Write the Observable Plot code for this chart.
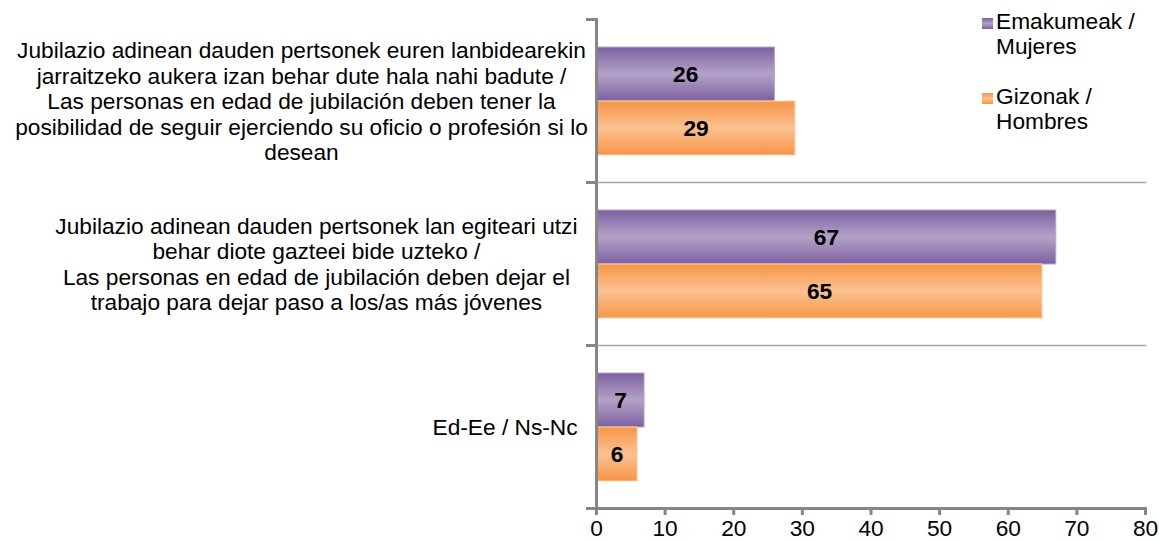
<!DOCTYPE html>
<html>
<head>
<meta charset="utf-8">
<script src="https://cdn.jsdelivr.net/npm/d3@7"></script>
<script src="https://cdn.jsdelivr.net/npm/@observablehq/plot@0.6"></script>
<style>
  html, body { margin: 0; padding: 0; background: #fff; }
  #wrap { position: relative; width: 1159px; height: 542px; font-family: "Liberation Sans", Arial, sans-serif; }
  .leg { position: absolute; left: 982px; font-size: 22.7px; line-height: 25px; color: #000; }
  .sw { position: absolute; left: 0; top: 9px; width: 11px; height: 11px; }
  .lt { position: absolute; left: 14px; top: 0; white-space: nowrap; }
</style>
</head>
<body>
<svg width="0" height="0" style="position:absolute">
  <defs>
    <linearGradient id="gW" x1="0" y1="0" x2="0" y2="1">
      <stop offset="0" stop-color="#7d60a0"/>
      <stop offset="0.5" stop-color="#b3a2c8"/>
      <stop offset="1" stop-color="#7d60a0"/>
    </linearGradient>
    <linearGradient id="gM" x1="0" y1="0" x2="0" y2="1">
      <stop offset="0" stop-color="#f79646"/>
      <stop offset="0.5" stop-color="#fac191"/>
      <stop offset="1" stop-color="#f79646"/>
    </linearGradient>
  </defs>
</svg>
<div id="wrap"></div>
<script>
const categories = [
  "Jubilazio adinean dauden pertsonek euren lanbidearekin\njarraitzeko aukera izan behar dute hala nahi badute /\nLas personas en edad de jubilación deben tener la\nposibilidad de seguir ejerciendo su oficio o profesión si lo\ndesean",
  "Jubilazio adinean dauden pertsonek lan egiteari utzi\nbehar diote gazteei bide uzteko /\nLas personas en edad de jubilación deben dejar el\ntrabajo para dejar paso a los/as más jóvenes",
  "Ed-Ee / Ns-Nc"
];
const series = ["Emakumeak / Mujeres", "Gizonak / Hombres"];
const legendLabels = ["Emakumeak /\nMujeres", "Gizonak /\nHombres"];
const women = [26, 67, 7];
const men = [29, 65, 6];
const xTicks = [0, 10, 20, 30, 40, 50, 60, 70, 80];

const data = categories.flatMap((c, i) => [
  {cat: c, sex: series[0], value: women[i]},
  {cat: c, sex: series[1], value: men[i]}
]);

const W = 1159, H = 542;
const mL = 596, mR = 14, mT = 18, mB = 34;
const plotW = W - mL - mR;
const FONT = "'Liberation Sans', Arial, sans-serif";
const FS = 22.7;
const axisGray = "#868686";

// measure wrapped label widths for centred block alignment (Excel-like wrap box)
const ctx = document.createElement("canvas").getContext("2d");
ctx.font = FS + "px " + FONT;
const blockW = categories.map(c => Math.min(552, d3.max(c.split("\n"), l => ctx.measureText(l).width)));

const labelMarks = categories.map((c, i) =>
  Plot.text([c], {
    fy: d => d, text: d => d,
    frameAnchor: "left", textAnchor: "middle", lineAnchor: "middle",
    lineHeight: 1.12, fontSize: FS, fill: "#000",
    dx: -(19 + blockW[i] / 2)
  })
);

const chart = Plot.plot({
  width: W, height: H,
  marginTop: mT, marginBottom: mB, marginLeft: mL, marginRight: mR,
  style: {fontFamily: FONT, fontSize: FS + "px", color: "#000", background: "transparent"},
  x: {domain: [0, 80], axis: null},
  fy: {domain: categories, padding: 0, axis: null},
  y: {domain: series, paddingInner: 0, paddingOuter: 0.485, axis: null},
  marks: [
    Plot.frame({anchor: "bottom", stroke: "#a6a6a6", strokeWidth: 1.5}),
    Plot.barX(data.filter(d => d.sex === series[0]), {fy: "cat", y: "sex", x: "value", fill: "url(#gW)", stroke: "#b6a6ca", strokeWidth: 1}),
    Plot.barX(data.filter(d => d.sex === series[1]), {fy: "cat", y: "sex", x: "value", fill: "url(#gM)", stroke: "#fcd3b0", strokeWidth: 1}),
    Plot.text(data, {fy: "cat", y: "sex", x: d => d.value / 2, text: d => String(d.value), fontWeight: "bold", fontSize: FS, fill: "#000"}),
    Plot.ruleX([0], {stroke: axisGray, strokeWidth: 3}),
    Plot.frame({anchor: "top", insetLeft: -9, insetRight: plotW, stroke: axisGray, strokeWidth: 3}),
    Plot.frame({anchor: "bottom", facetAnchor: "bottom", insetLeft: -9, stroke: axisGray, strokeWidth: 3}),
    Plot.axisX({ticks: xTicks, tickFormat: d => String(d), tickSize: 7, tickPadding: 4, stroke: axisGray, strokeWidth: 3, fill: "#000", fontSize: FS, label: null}),
    ...labelMarks
  ]
});

const wrap = document.getElementById("wrap");
wrap.appendChild(chart);

const legTops = [9, 84];
const legFill = ["linear-gradient(#7d60a0, #b3a2c8, #7d60a0)", "linear-gradient(#f79646, #fac191, #f79646)"];
legendLabels.forEach((lab, i) => {
  const item = document.createElement("div");
  item.className = "leg";
  item.style.top = legTops[i] + "px";
  const sw = document.createElement("div");
  sw.className = "sw";
  sw.style.background = legFill[i];
  const t = document.createElement("div");
  t.className = "lt";
  t.innerHTML = lab.split("\n").join("<br>");
  item.appendChild(sw);
  item.appendChild(t);
  wrap.appendChild(item);
});
</script>
</body>
</html>
